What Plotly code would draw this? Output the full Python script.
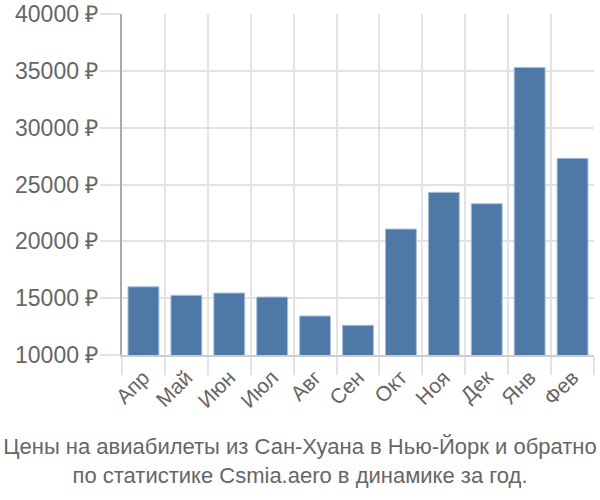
import plotly.graph_objects as go

months = ["Апр", "Май", "Июн", "Июл", "Авг", "Сен", "Окт", "Ноя", "Дек", "Янв", "Фев"]
prices = [16000, 15250, 15450, 15100, 13430, 12610, 21080, 24310, 23310, 35300, 27300]
y_ticks = [10000, 15000, 20000, 25000, 30000, 35000, 40000]
y_labels = [f"{v} ₽" for v in y_ticks]
title_text = "Цены на авиабилеты из Сан-Хуана в Нью-Йорк и обратно<br>по статистике Csmia.aero в динамике за год."

x = list(range(len(months)))

fig = go.Figure(go.Bar(
    x=x, y=prices, width=0.72,
    marker=dict(color="#4e79a7", line=dict(color="#a8bfd9", width=1)),
))

font = "Liberation Sans, Arial, sans-serif"
fig.update_layout(
    width=600, height=500,
    margin=dict(l=122, r=6, t=14, b=145, autoexpand=False),
    plot_bgcolor="white", paper_bgcolor="white",
    showlegend=False,
    font=dict(family=font, color="#666666", size=20),
    title=dict(text=title_text, x=0.5, xanchor="center", y=0.092, yanchor="middle",
               font=dict(size=22, color="#666666", family=font)),
    bargap=0.28,
)
fig.update_xaxes(
    range=[-0.5, len(months) - 0.5],
    tickvals=x, ticktext=months, tickangle=-45,
    showgrid=False, ticks="", zeroline=False, automargin=False,
    tickfont=dict(size=21, color="#666666"),
    minor=dict(tick0=-0.5, dtick=1, showgrid=True, gridcolor="#e3e3e3", gridwidth=1.5,
               ticks="outside", ticklen=18, tickcolor="#e3e3e3", tickwidth=1.5),
    showline=True, linecolor="#cccccc", linewidth=2,
)
fig.update_yaxes(
    range=[10000, 40000],
    tickvals=y_ticks, ticktext=y_labels,
    showgrid=True, gridcolor="#e3e3e3", gridwidth=1.5,
    ticks="outside", ticklen=20, tickcolor="#e3e3e3", tickwidth=1.5,
    ticklabelstandoff=-3,
    showline=True, linecolor="#aaaaaa", linewidth=2,
    zeroline=False, automargin=False,
    tickfont=dict(size=23, color="#666666"),
)

fig.write_html("out.html")
